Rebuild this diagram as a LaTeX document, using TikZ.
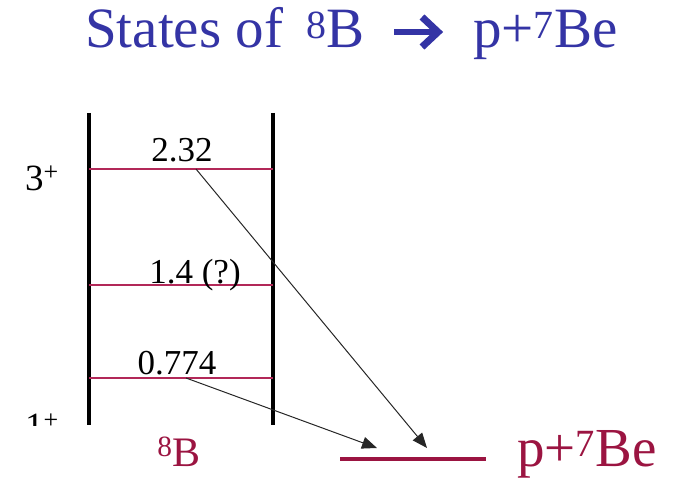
\documentclass[tikz,border=0pt]{standalone}
\usepackage{fontspec}
\setmainfont{Liberation Serif}
\usetikzlibrary{arrows.meta}
\definecolor{lvlred}{RGB}{178,40,88}
\definecolor{txtred}{RGB}{155,20,65}
\definecolor{ttlblue}{RGB}{52,52,165}
\begin{document}
\begin{tikzpicture}[x=1pt,y=-1pt,
  wall/.style={line width=4.2pt,black},
  level/.style={line width=2.4pt,lvlred},
  elabel/.style={font=\fontsize{35}{35}\selectfont,inner sep=0pt,anchor=base},
  ttl/.style={ttlblue,font=\fontsize{57}{57}\selectfont,inner sep=0pt,anchor=base west},
  trans/.style={line width=1pt,black!85,-{Triangle[length=15pt,width=12pt]}}]
\useasboundingbox (0,0) rectangle (679,481);
% title
\node[ttl] (t1) at (85,48) {States of};
\node[ttl] (t2) at (306,48) {\textsuperscript{8}B};
\node[ttl] (t3) at (473,48) {p+\textsuperscript{7}Be};
\coordinate (ta) at (394,32); \coordinate (tb) at (434,32);
\coordinate (th1) at (422,17); \coordinate (th2) at (438,32); \coordinate (th3) at (422,47);
\draw[ttlblue,line width=6.5pt] (ta) -- (tb);
\draw[ttlblue,line width=7pt,miter limit=10] (th1) -- (th2) -- (th3);
% walls
\coordinate (wlt) at (89,113); \coordinate (wlb) at (89,425);
\coordinate (wrt) at (273,113); \coordinate (wrb) at (273,425);
\draw[wall] (wlt) -- (wlb);
\draw[wall] (wrt) -- (wrb);
% levels
\coordinate (l3a) at (89,169); \coordinate (l3b) at (273,169);
\coordinate (l2a) at (89,285); \coordinate (l2b) at (273,285);
\coordinate (l1a) at (89,378); \coordinate (l1b) at (273,378);
\draw[level] (l3a) -- (l3b);
\draw[level] (l2a) -- (l2b);
\draw[level] (l1a) -- (l1b);
\node[elabel] (e3) at (182,161) {2.32};
\node[elabel] (e2) at (195,283) {1.4 (?)};
\node[elabel] (e1) at (177,374) {0.774};
% spins
\node[elabel,font=\fontsize{37}{37}\selectfont] (s3) at (42,190) {3\textsuperscript{+}};
\begin{scope}
\clip (0,400) rectangle (100,425);
\node[elabel,font=\fontsize{37}{37}\selectfont] (s1) at (42,438) {1\textsuperscript{+}};
\end{scope}
% labels
\node[elabel,txtred,font=\fontsize{42}{42}\selectfont] (b8) at (179,466) {\textsuperscript{8}B};
% final state
\coordinate (fa) at (340,459); \coordinate (fb) at (486,459);
\draw[line width=4.2pt,txtred] (fa) -- (fb);
\node[txtred,font=\fontsize{55}{55}\selectfont,inner sep=0pt,anchor=base west] (pbe) at (517,466) {p+\textsuperscript{7}Be};
% transitions
\coordinate (t3s) at (196,169); \coordinate (t3e) at (427,448);
\coordinate (t1s) at (186,378); \coordinate (t1e) at (377,448);
\draw[trans] (t3s) -- (t3e);
\draw[trans] (t1s) -- (t1e);
\end{tikzpicture}
\end{document}
